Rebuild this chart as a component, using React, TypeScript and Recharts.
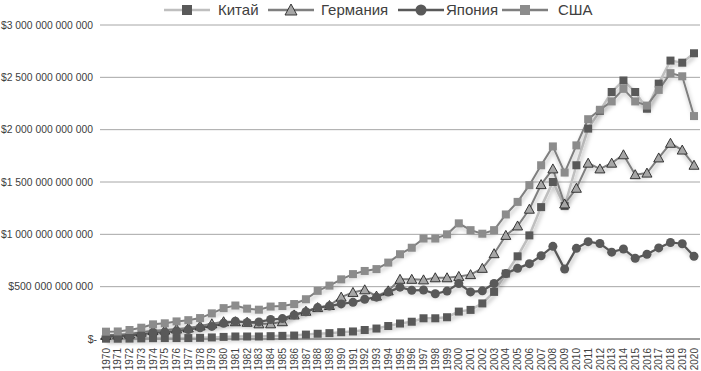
import React from 'react';
import { LineChart, Line, XAxis, YAxis, CartesianGrid } from 'recharts';

// Values in billions of USD
const years = [
  '1970', '1971', '1972', '1973', '1974', '1975', '1976', '1977', '1978', '1979',
  '1980', '1981', '1982', '1983', '1984', '1985', '1986', '1987', '1988', '1989',
  '1990', '1991', '1992', '1993', '1994', '1995', '1996', '1997', '1998', '1999',
  '2000', '2001', '2002', '2003', '2004', '2005', '2006', '2007', '2008', '2009',
  '2010', '2011', '2012', '2013', '2014', '2015', '2016', '2017', '2018', '2019', '2020',
];

const china = [
  3, 3, 4, 6, 8, 9, 9, 9, 11, 15,
  20, 24, 24, 24, 27, 30, 33, 42, 50, 56,
  65, 72, 86, 100, 124, 148, 165, 198, 198, 208,
  262, 278, 340, 450, 625, 790, 990, 1260, 1500, 1270,
  1660, 2010, 2180, 2360, 2470, 2360, 2200, 2440, 2660, 2640, 2730,
];

const germany = [
  35, 40, 48, 65, 80, 85, 95, 105, 125, 145,
  165, 165, 160, 145, 145, 165, 230, 265, 300, 320,
  400, 445, 470, 410, 460, 570, 570, 565, 585, 585,
  598, 615, 675, 815, 990, 1080, 1240, 1475, 1625, 1290,
  1440, 1680, 1625, 1680, 1760, 1570, 1585, 1730, 1870, 1805, 1660,
];

const japan = [
  22, 26, 32, 42, 62, 65, 76, 90, 108, 120,
  150, 170, 158, 163, 186, 195, 230, 260, 300, 315,
  335, 350, 380, 400, 448, 495, 465, 468, 432, 458,
  530, 450, 460, 530, 625, 675, 720, 795, 885, 668,
  866, 930, 912, 830, 860, 772, 810, 870, 922, 910, 790,
];

const usa = [
  70, 72, 86, 108, 140, 150, 168, 180, 200, 245,
  295, 320, 290, 280, 310, 315, 334, 380, 460, 510,
  570, 620, 650, 668, 730, 810, 872, 960, 960, 1000,
  1105, 1040, 1006, 1040, 1190, 1310, 1470, 1660, 1840, 1590,
  1850, 2100, 2190, 2270, 2390, 2270, 2230, 2380, 2540, 2510, 2130,
];

const yTicks = [0, 500, 1000, 1500, 2000, 2500, 3000];

const data = years.map((year, i) => ({
  year,
  china: china[i],
  germany: germany[i],
  japan: japan[i],
  usa: usa[i],
}));

const sans = '"Liberation Sans", Arial, sans-serif';
const textColor = '#404040';

const formatMoney = (v: number) => {
  if (v === 0) return '$-';
  const s = String(Math.round(v * 1e9)).replace(/\B(?=(\d{3})+(?!\d))/g, ' ');
  return '$' + s;
};

// rough Arial widths, used only to keep the longest labels inside the page
const estWidth = (s: string, size: number) =>
  s.split('').reduce((w, ch) => w + (ch === ' ' ? 0.278 : ch === '-' ? 0.333 : 0.556), 0) * size;

const YTick = (props: any) => {
  const { x, y, payload } = props;
  const isZero = payload.value === 0;
  const label = formatMoney(payload.value);
  const endX = isZero ? x + 5 : x + 1;
  const w = estWidth(label, 10.5);
  const squeeze = w > endX - 1;
  return (
    <text
      x={endX}
      y={y}
      dy="0.35em"
      textAnchor="end"
      fontSize={10.5}
      fontFamily={sans}
      fill={textColor}
      textLength={squeeze ? endX - 1 : undefined}
      lengthAdjust={squeeze ? 'spacingAndGlyphs' : undefined}
    >
      {label}
    </text>
  );
};

const XTick = (props: any) => {
  const { x, y, payload } = props;
  return (
    <text
      transform={`translate(${x},${y + 1}) rotate(-90)`}
      dy="0.36em"
      textAnchor="end"
      fontSize={10}
      fontFamily={sans}
      fill={textColor}
    >
      {payload.value}
    </text>
  );
};

const squareDot = (fill: string, size: number) => (props: any) => {
  const { cx, cy, index } = props;
  if (cx == null || cy == null) return <g key={`s-${index}`} />;
  return (
    <rect
      key={`s-${index}`}
      x={cx - size / 2}
      y={cy - size / 2}
      width={size}
      height={size}
      fill={fill}
    />
  );
};

const circleDot = (props: any) => {
  const { cx, cy, index } = props;
  if (cx == null || cy == null) return <g key={`c-${index}`} />;
  return <circle key={`c-${index}`} cx={cx} cy={cy} r={4.5} fill="#595959" />;
};

const triangleDot = (props: any) => {
  const { cx, cy, index } = props;
  if (cx == null || cy == null) return <g key={`t-${index}`} />;
  return (
    <path
      key={`t-${index}`}
      d={`M${cx},${cy - 5} L${cx + 5},${cy + 4} L${cx - 5},${cy + 4} Z`}
      fill="#a6a6a6"
      stroke="#262626"
      strokeWidth={0.9}
    />
  );
};

const LegendIcon = ({ line, kind }: { line: string; kind: string }) => (
  <svg width={46} height={14} style={{ display: 'block' }}>
    <line x1={0} y1={7} x2={46} y2={7} stroke={line} strokeWidth={2.5} />
    {kind === 'chinaSq' && <rect x={18} y={2} width={10} height={10} fill="#595959" />}
    {kind === 'usaSq' && <rect x={18} y={2} width={10} height={10} fill="#8c8c8c" />}
    {kind === 'circle' && <circle cx={23} cy={7} r={5.5} fill="#595959" />}
    {kind === 'tri' && (
      <path d="M23,1 L29,12 L17,12 Z" fill="#a6a6a6" stroke="#262626" strokeWidth={0.9} />
    )}
  </svg>
);

const legendItems = [
  { name: 'Китай', line: '#bfbfbf', kind: 'chinaSq', iconX: 164, textX: 218 },
  { name: 'Германия', line: '#7f7f7f', kind: 'tri', iconX: 268, textX: 321 },
  { name: 'Япония', line: '#595959', kind: 'circle', iconX: 398, textX: 446 },
  { name: 'США', line: '#7f7f7f', kind: 'usaSq', iconX: 502, textX: 558 },
];

const App: React.FC = () => {
  return (
    <div style={{ position: 'absolute', left: 0, top: 0, width: 701, height: 371, background: '#fff' }}>
      <LineChart
        width={701}
        height={371}
        data={data}
        margin={{ top: 25, right: 1, left: 0, bottom: 0 }}
      >
        <defs>
          <filter id="lineShadow" x="-5%" y="-10%" width="110%" height="130%">
            <feDropShadow dx="1" dy="3" stdDeviation="2" floodColor="#000" floodOpacity="0.3" />
          </filter>
        </defs>
        <CartesianGrid vertical={false} stroke="#a6a6a6" strokeWidth={1} />
        <XAxis
          dataKey="year"
          interval={0}
          tick={<XTick />}
          tickLine={false}
          axisLine={{ stroke: '#8c8c8c', strokeWidth: 1.5 }}
          height={32}
          padding={{ left: 6, right: 6 }}
        />
        <YAxis
          domain={[0, 3000]}
          ticks={yTicks}
          tick={<YTick />}
          tickLine={false}
          axisLine={false}
          width={100}
        />
        <Line
          dataKey="china"
          stroke="#bfbfbf"
          strokeWidth={2.5}
          dot={squareDot('#595959', 8)}
          filter="url(#lineShadow)"
          isAnimationActive={false}
        />
        <Line
          dataKey="germany"
          stroke="#7f7f7f"
          strokeWidth={2}
          dot={triangleDot}
          filter="url(#lineShadow)"
          isAnimationActive={false}
        />
        <Line
          dataKey="japan"
          stroke="#595959"
          strokeWidth={2.25}
          dot={circleDot}
          filter="url(#lineShadow)"
          isAnimationActive={false}
        />
        <Line
          dataKey="usa"
          stroke="#7f7f7f"
          strokeWidth={2}
          dot={squareDot('#8c8c8c', 8)}
          filter="url(#lineShadow)"
          isAnimationActive={false}
        />
      </LineChart>
      {legendItems.map((item) => (
        <React.Fragment key={item.name}>
          <div style={{ position: 'absolute', left: item.iconX, top: 3 }}>
            <LegendIcon line={item.line} kind={item.kind} />
          </div>
          <div
            style={{
              position: 'absolute',
              left: item.textX,
              top: 0,
              fontFamily: sans,
              fontSize: 15,
              lineHeight: '19px',
              color: textColor,
              whiteSpace: 'nowrap',
            }}
          >
            {item.name}
          </div>
        </React.Fragment>
      ))}
    </div>
  );
};

export default App;
